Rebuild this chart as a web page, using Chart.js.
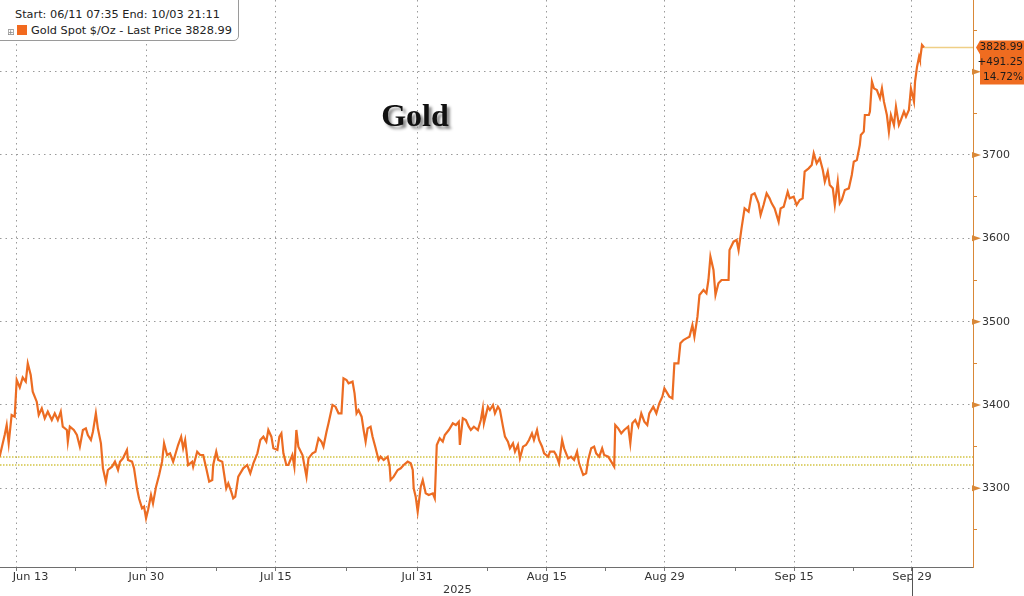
<!DOCTYPE html>
<html>
<head>
<meta charset="utf-8">
<title>Gold</title>
<script src="https://cdn.jsdelivr.net/npm/chart.js@4.4.1/dist/chart.umd.min.js"></script>
<style>
    body { margin: 0; background: #fff; overflow: hidden; }
    #wrap { position: relative; width: 1024px; height: 596px; }
    #legend {
        position: absolute; left: -1px; top: -1px; width: 240px; height: 42px;
        box-sizing: border-box; padding-top: 7px;
        border: 1px solid #9a9a9a; border-radius: 0 0 5px 0; background: #fff;
        font: 11.3px "DejaVu Sans", sans-serif; color: #222; line-height: 16px;
    }
    #legend .row1 { padding-left: 15px; }
    #legend .row2 { padding-left: 31px; }
    #legend .expand { position: absolute; left: 7px; top: 24px; font-size: 9px; color: #888; }
    #legend .swatch { position: absolute; left: 17px; top: 25px; width: 10px; height: 10px; background: #f26a1f; }
    #title {
        position: absolute; left: 315px; top: 95px; width: 200px; text-align: center;
        font: bold 32px "Liberation Serif", serif; line-height: 40px; color: #111;
        text-shadow: 3px 3px 3px #8a8a8a;
    }
</style>
</head>
<body>
<div id="wrap">
    <canvas id="gold-chart" width="1024" height="596"></canvas>
    <div id="legend">
        <div class="row1">Start: 06/11 07:35 End: 10/03 21:11</div>
        <span class="expand">&#8862;</span><span class="swatch"></span>
        <div class="row2">Gold Spot $/Oz - Last Price 3828.99</div>
    </div>
    <div id="title">Gold</div>
</div>
<script>
// Trading days counted from Jun 13 (fractions = intraday)
const tradingDays = [
    -1.45, -1.02, -0.85, -0.68, -0.43, -0.17, 0, 0.26, 0.51, 0.77,
    0.94, 1.19, 1.36, 1.70, 1.87, 2.13, 2.38, 2.64, 2.98, 3.23,
    3.49, 3.74, 3.91, 4.26, 4.34, 4.51, 4.85, 5.11, 5.36, 5.62,
    5.87, 6.04, 6.30, 6.47, 6.72, 6.89, 7.15, 7.32, 7.57, 7.74,
    8.09, 8.34, 8.60, 8.77, 9.02, 9.36, 9.45, 9.79, 9.96, 10.21,
    10.38, 10.64, 10.81, 10.98, 11.15, 11.40, 11.57, 11.83, 12.09, 12.34,
    12.51, 12.77, 13.02, 13.28, 13.45, 13.70, 13.96, 14.13, 14.30, 14.55,
    14.89, 14.98, 15.32, 15.57, 15.83, 16.09, 16.34, 16.60, 16.68, 16.94,
    17.11, 17.45, 17.62, 17.79, 17.96, 18.21, 18.38, 18.55, 18.81, 19.23,
    19.57, 19.83, 20.09, 20.43, 20.68, 20.94, 21.19, 21.36, 21.62, 21.79,
    22.13, 22.30, 22.47, 22.64, 22.89, 23.06, 23.40, 23.57, 23.74, 23.91,
    24.26, 24.60, 24.77, 25.11, 25.36, 25.62, 25.87, 26.04, 26.30, 26.47,
    26.81, 27.06, 27.32, 27.57, 27.74, 28.00, 28.17, 28.51, 28.68, 28.85,
    29.02, 29.28, 29.45, 29.62, 29.79, 30.04, 30.21, 30.47, 30.72, 30.89,
    31.15, 31.49, 31.66, 31.74, 32.00, 32.34, 32.60, 32.85, 33.19, 33.45,
    33.62, 33.70, 33.87, 34.04, 34.13, 34.30, 34.47, 34.72, 34.98, 35.32,
    35.49, 35.66, 35.91, 36.17, 36.34, 36.68, 37.02, 37.28, 37.53, 37.62,
    37.87, 38.13, 38.38, 38.55, 38.81, 39.15, 39.40, 39.57, 39.66, 40.00,
    40.17, 40.43, 40.60, 40.85, 41.02, 41.28, 41.45, 41.70, 41.87, 42.13,
    42.30, 42.55, 42.72, 42.98, 43.23, 43.49, 43.74, 43.91, 44.17, 44.34,
    44.60, 44.77, 45.11, 45.28, 45.62, 45.79, 46.04, 46.30, 46.47, 46.81,
    47.06, 47.32, 47.57, 47.74, 48.09, 48.34, 48.51, 48.77, 49.02, 49.19,
    49.45, 49.70, 49.87, 50.21, 50.47, 50.72, 50.81, 51.06, 51.32, 51.57,
    51.91, 52.09, 52.26, 52.51, 52.77, 53.02, 53.28, 53.53, 53.70, 54.04,
    54.30, 54.55, 54.81, 54.98, 55.15, 55.40, 55.66, 55.83, 56.17, 56.34,
    56.60, 56.85, 57.11, 57.36, 57.53, 57.79, 57.96, 58.30, 58.55, 58.72,
    58.89, 59.15, 59.32, 59.57, 59.83, 60.43, 60.51, 60.85, 61.11, 61.28,
    61.53, 61.79, 62.13, 62.38, 62.64, 62.98, 63.15, 63.40, 63.66, 63.91,
    64.09, 64.34, 64.68, 64.85, 65.11, 65.45, 65.62, 65.96, 66.21, 66.47,
    66.72, 66.89, 67.23, 67.49, 67.66, 67.91, 68.17, 68.43, 68.60, 68.85,
    69.02, 69.28, 69.45, 69.70, 69.87, 70.04, 70.30, 70.64, 70.89, 71.06,
    71.32, 71.57, 71.66, 71.91, 72.00, 72.34, 72.43, 72.60, 72.77, 73.02,
    73.28, 73.45, 73.62, 73.87, 74.04, 74.21, 74.47, 74.64, 74.89, 75.06,
    75.32, 75.49, 75.74, 75.91, 76.17, 76.26, 76.43, 76.60, 76.68, 76.85,
    77.02
];

// Gold spot $/oz at those times
const goldPrices = [
    3338, 3364, 3376, 3354, 3388, 3386, 3430, 3421, 3433, 3428,
    3450, 3436, 3416, 3404, 3388, 3396, 3384, 3392, 3382, 3390,
    3382, 3392, 3374, 3370, 3356, 3374, 3370, 3364, 3350, 3370,
    3372, 3364, 3358, 3368, 3390, 3372, 3354, 3324, 3308, 3322,
    3326, 3332, 3322, 3332, 3336, 3346, 3334, 3332, 3324, 3300,
    3288, 3276, 3278, 3264, 3274, 3292, 3282, 3302, 3316, 3332,
    3354, 3340, 3342, 3332, 3340, 3352, 3362, 3348, 3358, 3328,
    3332, 3326, 3344, 3340, 3340, 3324, 3308, 3310, 3328, 3344,
    3334, 3332, 3316, 3300, 3306, 3296, 3288, 3290, 3314, 3324,
    3328, 3318, 3330, 3342, 3358, 3362, 3356, 3370, 3362, 3348,
    3346, 3362, 3366, 3342, 3328, 3328, 3340, 3326, 3370, 3350,
    3340, 3314, 3336, 3342, 3344, 3360, 3356, 3350, 3368, 3378,
    3400, 3398, 3390, 3390, 3432, 3430, 3426, 3428, 3414, 3390,
    3394, 3386, 3370, 3356, 3372, 3374, 3362, 3348, 3334, 3338,
    3334, 3338, 3326, 3310, 3314, 3322, 3324, 3328, 3332, 3330,
    3322, 3300, 3290, 3272, 3282, 3302, 3310, 3294, 3292, 3294,
    3288, 3352, 3360, 3356, 3364, 3370, 3378, 3376, 3380, 3352,
    3384, 3382, 3374, 3370, 3374, 3370, 3382, 3396, 3378, 3398,
    3394, 3400, 3390, 3398, 3394, 3374, 3362, 3356, 3348, 3354,
    3344, 3352, 3336, 3350, 3352, 3358, 3366, 3358, 3370, 3358,
    3350, 3342, 3338, 3344, 3344, 3340, 3330, 3358, 3348, 3336,
    3338, 3334, 3344, 3330, 3316, 3318, 3334, 3348, 3350, 3342,
    3338, 3348, 3340, 3338, 3332, 3326, 3376, 3372, 3366, 3370,
    3374, 3354, 3378, 3382, 3374, 3390, 3380, 3376, 3390, 3398,
    3390, 3402, 3410, 3420, 3416, 3410, 3408, 3450, 3450, 3474,
    3478, 3480, 3482, 3496, 3482, 3506, 3532, 3538, 3534, 3550,
    3578, 3562, 3532, 3546, 3550, 3550, 3586, 3596, 3598, 3586,
    3612, 3636, 3632, 3652, 3654, 3642, 3628, 3640, 3654, 3648,
    3642, 3636, 3620, 3636, 3638, 3656, 3648, 3650, 3640, 3646,
    3648, 3680, 3684, 3688, 3702, 3690, 3696, 3682, 3668, 3680,
    3664, 3660, 3640, 3668, 3642, 3646, 3658, 3660, 3676, 3692,
    3694, 3712, 3724, 3728, 3748, 3748, 3752, 3788, 3780, 3778,
    3768, 3780, 3764, 3748, 3728, 3748, 3736, 3758, 3736, 3742,
    3752, 3746, 3754, 3780, 3764, 3788, 3806, 3818, 3814, 3832,
    3828.99
];

const startPrice = 3337.74;
const lastPrice = 3828.99;
const secondRefPrice = 3328;

// Date axis
const tickDays = [0, 11, 22, 34, 45, 55, 66, 76];
const tickLabels = ['Jun 13', 'Jun 30', 'Jul 15', 'Jul 31', 'Aug 15', 'Aug 29', 'Sep 15', 'Sep 29'];
const minorTickDays = [5, 17, 28, 40, 50, 61, 71];
const yearLabel = '2025';

// Price axis
const priceTicks = [3250, 3300, 3350, 3400, 3450, 3500, 3550, 3600, 3650, 3700, 3750, 3800, 3850];
const priceLabels = ['', '3300', '', '3400', '', '3500', '', '3600', '', '3700', '', '3800', ''];

const X_MIN = -1.418;
const X_MAX = 81.18;
const Y_MIN = 3205.6;
const Y_MAX = 3886;

const LINE_ORANGE = '#ec6c22';
const AXIS_ORANGE = '#d98838';
const TAG_ORANGE = '#ef6c20';
const GRID_GREY = '#9a9a9a';
const REF_YELLOW = '#d3c444';

// Extra Bloomberg-style bits: date labels, axis arrows, last price tag
const bloombergExtras = {
    id: 'bloombergExtras',
    afterDraw(chart) {
        const { ctx, chartArea, scales } = chart;
        const xs = scales.x;
        const ys = scales.y;
        ctx.save();

        // date labels
        ctx.font = '11.3px "DejaVu Sans"';
        ctx.fillStyle = '#333';
        ctx.textBaseline = 'middle';
        ctx.textAlign = 'left';
        tickDays.forEach((d, i) => {
            const px = xs.getPixelForValue(d);
            const w = ctx.measureText(tickLabels[i]).width;
            let left = px - w / 2;
            if (left < 2) left = px - 4;
            ctx.fillText(tickLabels[i], left, chartArea.bottom + 10);
        });
        ctx.fillText(yearLabel, 443, chartArea.bottom + 23);

        // marker under the last date tick
        const lastTickX = Math.round(xs.getPixelForValue(tickDays[tickDays.length - 1])) + 0.5;
        ctx.strokeStyle = '#555';
        ctx.lineWidth = 1;
        ctx.beginPath();
        ctx.moveTo(lastTickX, chartArea.bottom);
        ctx.lineTo(lastTickX, chart.height);
        ctx.stroke();

        // arrows on the price axis
        ctx.fillStyle = AXIS_ORANGE;
        priceTicks.forEach(v => {
            if (v % 100 !== 0) return;
            const py = ys.getPixelForValue(v);
            ctx.beginPath();
            ctx.moveTo(chartArea.right - 1, py - 3);
            ctx.lineTo(chartArea.right + 8, py);
            ctx.lineTo(chartArea.right - 1, py + 3);
            ctx.closePath();
            ctx.fill();
        });

        // last price tag
        const py = ys.getPixelForValue(lastPrice);
        const bx = chartArea.right + 7;
        const right = chart.width;
        ctx.fillStyle = TAG_ORANGE;
        ctx.beginPath();
        ctx.moveTo(chartArea.right + 3, py);
        ctx.lineTo(bx, py - 7);
        ctx.lineTo(right, py - 7);
        ctx.lineTo(right, py + 37);
        ctx.lineTo(bx, py + 37);
        ctx.lineTo(bx, py + 7);
        ctx.closePath();
        ctx.fill();

        const change = lastPrice - startPrice;
        const pct = change / startPrice * 100;
        ctx.font = '10.5px "DejaVu Sans"';
        ctx.fillStyle = '#1c1c1c';
        ctx.textAlign = 'right';
        ctx.fillText(lastPrice.toFixed(2), right - 1, py);
        ctx.fillText('+' + change.toFixed(2), right - 1, py + 15);
        ctx.fillText(pct.toFixed(2) + '%', right - 1, py + 30);

        ctx.restore();
    }
};

function flatLine(fromX, toX, value) {
    return [{ x: fromX, y: value }, { x: toX, y: value }];
}

function renderChart() {
    const points = tradingDays.map((d, i) => ({ x: d, y: goldPrices[i] }));
    const lastDay = tradingDays[tradingDays.length - 1];

    new Chart(document.getElementById('gold-chart'), {
        type: 'line',
        data: {
            datasets: [
                {
                    data: points,
                    borderColor: LINE_ORANGE,
                    borderWidth: 2.2,
                    pointRadius: 0,
                    tension: 0
                },
                {
                    data: flatLine(lastDay, X_MAX, lastPrice),
                    borderColor: '#efcf86',
                    borderWidth: 1.5,
                    pointRadius: 0
                },
                {
                    data: flatLine(X_MIN, X_MAX, startPrice),
                    borderColor: REF_YELLOW,
                    borderWidth: 1.5,
                    borderDash: [1.5, 1.5],
                    pointRadius: 0
                },
                {
                    data: flatLine(X_MIN, X_MAX, secondRefPrice),
                    borderColor: REF_YELLOW,
                    borderWidth: 1.5,
                    borderDash: [1.5, 1.5],
                    pointRadius: 0
                }
            ]
        },
        options: {
            responsive: false,
            animation: false,
            layout: { padding: 0 },
            plugins: {
                legend: { display: false },
                tooltip: { enabled: false }
            },
            scales: {
                x: {
                    type: 'linear',
                    min: X_MIN,
                    max: X_MAX,
                    afterBuildTicks: scale => {
                        scale.ticks = tickDays.concat(minorTickDays)
                            .sort((a, b) => a - b)
                            .map(v => ({ value: v }));
                    },
                    ticks: { display: false },
                    grid: {
                        color: c => (c.tick && tickDays.includes(c.tick.value)) ? GRID_GREY : 'rgba(0,0,0,0)',
                        tickColor: '#777',
                        tickLength: 4
                    },
                    border: { color: '#6e6e6e', dash: [1.5, 4] },
                    afterFit: scale => {
                        scale.height = 29;
                        scale.paddingLeft = 0;
                        scale.paddingRight = 0;
                    }
                },
                y: {
                    position: 'right',
                    min: Y_MIN,
                    max: Y_MAX,
                    afterBuildTicks: scale => {
                        scale.ticks = priceTicks.map(v => ({ value: v }));
                    },
                    ticks: {
                        autoSkip: false,
                        padding: 5,
                        color: '#333',
                        font: { family: 'DejaVu Sans', size: 11 },
                        callback: (value, index) => priceLabels[index]
                    },
                    grid: {
                        color: c => (c.tick && c.tick.value % 100 === 0) ? GRID_GREY : 'rgba(0,0,0,0)',
                        tickColor: AXIS_ORANGE,
                        tickLength: 4
                    },
                    border: { color: AXIS_ORANGE, dash: [1.5, 4] },
                    afterFit: scale => {
                        scale.width = 51;
                        scale.paddingTop = 0;
                        scale.paddingBottom = 0;
                    }
                }
            }
        },
        plugins: [bloombergExtras]
    });
}

document.addEventListener('DOMContentLoaded', renderChart);
</script>
</body>
</html>
